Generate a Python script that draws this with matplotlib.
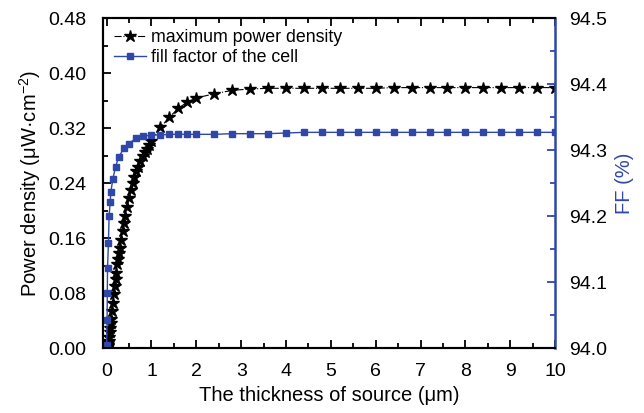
import matplotlib
matplotlib.use('Agg')
import matplotlib.pyplot as plt
from matplotlib.ticker import MultipleLocator

plt.rcParams['font.family'] = ['Liberation Sans', 'DejaVu Sans']
plt.rcParams['mathtext.fontset'] = 'custom'
plt.rcParams['mathtext.rm'] = 'Liberation Sans'
plt.rcParams['mathtext.it'] = 'Liberation Sans:italic'

# thickness of source (um) and maximum power density (uW/cm^2)
x_pd = [0, 0.01, 0.02, 0.03, 0.04, 0.05, 0.06, 0.07, 0.08, 0.09, 0.1,
        0.12, 0.14, 0.16, 0.18, 0.2, 0.22, 0.24, 0.26, 0.28, 0.3, 0.33,
        0.36, 0.39, 0.42, 0.46, 0.5, 0.54, 0.58, 0.62, 0.66, 0.7, 0.75,
        0.8, 0.85, 0.9, 0.95, 1.0, 1.2, 1.4, 1.6, 1.8, 2.0, 2.4, 2.8,
        3.2, 3.6, 4.0, 4.4, 4.8, 5.2, 5.6, 6.0, 6.4, 6.8, 7.2, 7.6, 8.0,
        8.4, 8.8, 9.2, 9.6, 10.0]
pd = [0.0, 0.001, 0.003, 0.005, 0.007, 0.01, 0.016, 0.024, 0.03, 0.036, 0.042,
      0.054, 0.066, 0.079, 0.09, 0.1, 0.11, 0.122, 0.13, 0.138, 0.146, 0.158,
      0.17, 0.182, 0.192, 0.206, 0.218, 0.23, 0.24, 0.249, 0.257, 0.264, 0.272,
      0.279, 0.285, 0.29, 0.296, 0.302, 0.321, 0.336, 0.349, 0.358, 0.364, 0.370, 0.375,
      0.377, 0.378, 0.378, 0.378, 0.378, 0.378, 0.378, 0.378, 0.379, 0.379, 0.379, 0.379, 0.379,
      0.379, 0.379, 0.379, 0.379, 0.379]

# fill factor of the cell (%)
x_ff = [0.0, 0.01, 0.015, 0.02, 0.04, 0.055, 0.08, 0.095, 0.14, 0.2, 0.27,
        0.39, 0.5, 0.65, 0.8, 1.0, 1.2, 1.4, 1.6, 1.8, 2.0, 2.4, 2.8, 3.2,
        3.6, 4.0, 4.4, 4.8, 5.2, 5.6, 6.0, 6.4, 6.8, 7.2, 7.6, 8.0, 8.4,
        8.8, 9.2, 9.6, 10.0]
ff = [94.005, 94.042, 94.083, 94.121, 94.159, 94.20, 94.222, 94.237, 94.257, 94.275, 94.29,
      94.303, 94.31, 94.318, 94.321, 94.323, 94.323, 94.324, 94.324, 94.324, 94.324, 94.324, 94.325, 94.325,
      94.325, 94.326, 94.327, 94.327, 94.327, 94.327, 94.327, 94.327, 94.327, 94.327, 94.327, 94.327, 94.327,
      94.327, 94.327, 94.327, 94.327]

blue = '#2f47a8'

fig = plt.figure(figsize=(6.44, 4.13), dpi=100)
ax = fig.add_axes([0.16, 0.157, 0.702, 0.799])
ax2 = ax.twinx()

l1, = ax.plot(x_pd, pd, color='black', marker='*', markersize=9, lw=0.8,
              linestyle='-.', label='maximum power density')
l2, = ax2.plot(x_ff, ff, color=blue, marker='s', markersize=4.5, lw=1,
               linestyle='-', label='fill factor of the cell')

ax.set_xlim(-0.08, 10)
ax.set_ylim(0, 0.48)
ax2.set_ylim(94.0, 94.5)

ax.xaxis.set_major_locator(MultipleLocator(1))
ax.xaxis.set_minor_locator(MultipleLocator(0.5))
ax.yaxis.set_major_locator(MultipleLocator(0.08))
ax.yaxis.set_minor_locator(MultipleLocator(0.04))
ax2.yaxis.set_major_locator(MultipleLocator(0.1))
ax2.yaxis.set_minor_locator(MultipleLocator(0.05))
ax.yaxis.set_major_formatter(plt.FormatStrFormatter('%.2f'))
ax2.yaxis.set_major_formatter(plt.FormatStrFormatter('%.1f'))

ax.tick_params(axis='both', which='both', direction='in', labelsize=14, width=1.3)
ax.tick_params(axis='x', which='both', top=True)
ax.tick_params(which='major', length=6)
ax.tick_params(which='minor', length=3.5)
ax.tick_params(axis='x', which='both', pad=11)
ax.tick_params(axis='y', which='both', pad=12)
ax2.tick_params(axis='y', which='both', direction='in', labelsize=14, width=1.3,
                color=blue, pad=10)
ax2.tick_params(which='major', length=6)
ax2.tick_params(which='minor', length=3.5)

for s in ['left', 'bottom', 'top']:
    ax.spines[s].set_linewidth(1.5)
    ax2.spines[s].set_linewidth(1.5)
ax2.spines['right'].set_linewidth(1.8)
ax2.spines['right'].set_color(blue)
ax.spines['right'].set_visible(False)

ax.set_xlabel('The thickness of source (μm)', fontsize=14.5, labelpad=4)
ax.set_ylabel('Power density (μW·cm$^{-2}$)', fontsize=14.5, labelpad=4)
ax2.set_ylabel('FF (%)', fontsize=14.5, color=blue, labelpad=6)

ax.legend(handles=[l1, l2], loc='upper left', frameon=False, fontsize=12.8,
          handlelength=1.8, handletextpad=0.3, borderaxespad=0.2,
          labelspacing=0.2, bbox_to_anchor=(0.0, 1.0))

fig.savefig('out.png', dpi=100)
